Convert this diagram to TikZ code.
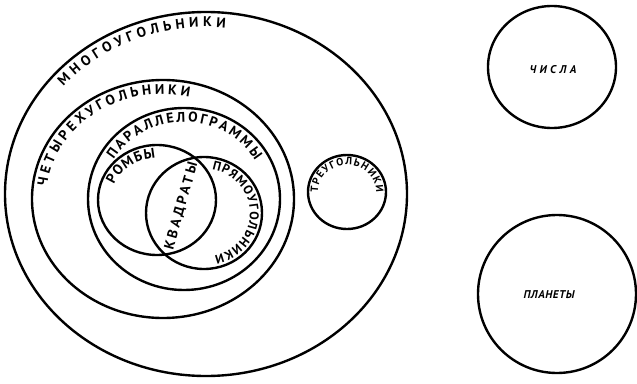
\documentclass[tikz,border=0pt]{standalone}
\usepackage{fontspec}
\setmainfont{PT Sans}
\usetikzlibrary{decorations.text,calc}

\begin{document}
\begin{tikzpicture}[x=0.025cm,y=0.025cm,line width=1.7pt,line cap=round,
  arc label/.style 2 args={decorate,decoration={text along path,text align=fit to path,
    text={|\bfseries\fontsize{#1}{#1}\selectfont|#2}}},
  word/.style={inner sep=0pt,font=\fontsize{8}{8}\selectfont\bfseries\itshape\addfontfeature{LetterSpace=#1}}]
\useasboundingbox (0,0) rectangle (637,383);
% centres of the sets
\coordinate (poly) at (206,189);
\coordinate (quad) at (163,184);
\coordinate (para) at (184,184);
\coordinate (romb) at (157,183);
\coordinate (rect) at (204,170);
\coordinate (tri) at (347,191);
\coordinate (num) at (552,316);
\coordinate (plan) at (557,89);
% sets
\draw (poly) ellipse [x radius=201,y radius=182];
\draw (quad) ellipse [x radius=131,y radius=119];
\draw (para) ellipse [x radius=96,y radius=91];
\draw (romb) ellipse [x radius=59,y radius=55];
\draw (rect) ellipse [x radius=58,y radius=56];
\draw (tri) ellipse [x radius=39,y radius=37];
\draw (num) ellipse [x radius=64,y radius=61];
\draw (plan) ellipse [x radius=79,y radius=79];
% names along the rims
\path[arc label={10}{МНОГОУГОЛЬНИКИ}] ($(poly)+(140:186 and 167)$)
  arc[start angle=140,end angle=84,x radius=186,y radius=167];
\path[arc label={10}{ЧЕТЫРЕХУГОЛЬНИКИ}] ($(quad)+(173:117 and 105)$)
  arc[start angle=173,end angle=77,x radius=117,y radius=105];
\path[arc label={10}{ПАРАЛЛЕЛОГРАММЫ}] ($(para)+(149:82 and 77)$)
  arc[start angle=149,end angle=30,x radius=82,y radius=77];
\path[arc label={10}{РОМБЫ}] ($(romb)+(159:46 and 42)$)
  arc[start angle=159,end angle=92,x radius=46,y radius=42];
\path[arc label={9}{ПРЯМОУГОЛЬНИКИ}] ($(rect)+(80:46 and 44)$)
  arc[start angle=80,end angle=-77,x radius=46,y radius=44];
\path[arc label={7.5}{ТРЕУГОЛЬНИКИ}] ($(tri)+(182:29 and 27)$)
  arc[start angle=182,end angle=-2,x radius=29,y radius=27];
\path[arc label={10}{КВАДРАТЫ}] (173,133) -- (197.5,219);
% sets apart
\node[word=30] (chisla) at (553,313) {ЧИСЛА};
\node[word=5] (planety) at (549,88) {ПЛАНЕТЫ};
\end{tikzpicture}
\end{document}
